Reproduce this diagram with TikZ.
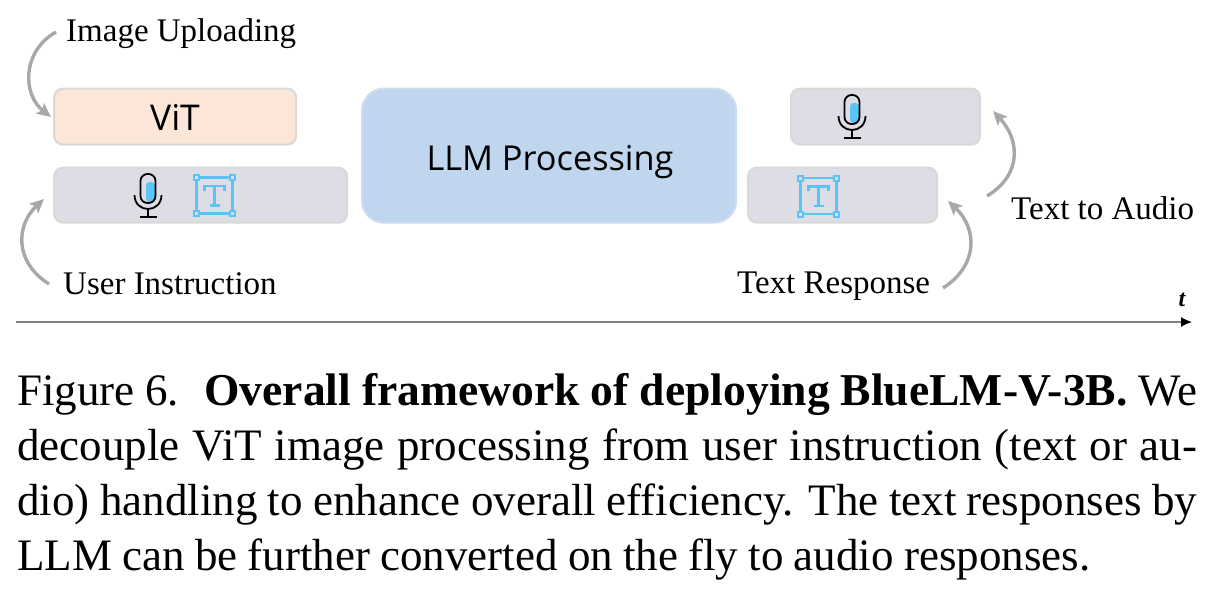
\documentclass[tikz,border=0pt]{standalone}
\usepackage{fontspec}
\setmainfont{Liberation Serif}
\newfontfamily\boxfont{Open Sans}
\usetikzlibrary{arrows.meta}
\definecolor{arrowgray}{HTML}{A8A8A8}
\definecolor{iconblue}{HTML}{5BC4F7}
\definecolor{barfill}{HTML}{DDDDE6}
\definecolor{barline}{HTML}{D9D9D9}
\definecolor{vitfill}{HTML}{FBE6D8}
\definecolor{llmfill}{HTML}{BFD6EE}
\definecolor{llmline}{HTML}{CBDDEF}
\definecolor{axisgray}{HTML}{7F7F7F}
\tikzset{
  x=1pt,y=-1pt,
  bar/.style={draw=barline,line width=2.2pt,fill=barfill,rounded corners=9pt,inner sep=0pt,anchor=north west},
  lbl/.style={font=\fontsize{33}{38}\selectfont,inner sep=0pt,anchor=base west},
  captext/.style={font=\fontsize{45}{50}\selectfont,inner sep=0pt,anchor=base west},
  flow/.style={draw=arrowgray,line width=3.4pt,-{Stealth[length=14pt,width=13pt,inset=3pt]}},
  mic/.pic={
    \fill[iconblue,rounded corners=3.5pt] (-2,-13) -- (7,-13) -- (7,7) -- (-2,7) -- cycle;
    \draw[black,line width=1.8pt,rounded corners=7pt] (-7.5,-21) rectangle (7.5,8);
    \draw[black,line width=1.8pt] (-13.5,0) .. controls (-13.5,9) and (-7,14) .. (0,14) .. controls (7,14) and (13.5,9) .. (13.5,0);
    \draw[black,line width=1.8pt] (0,14) -- (0,22) (-8.5,22) -- (8.5,22);
  },
  texticon/.pic={
    \draw[iconblue,line width=2.8pt] (-18,-18) rectangle (18,18);
    \foreach \cx/\cy in {-18/-18,18/-18,-18/18,18/18}
      \draw[iconblue,line width=2pt,fill=barfill] (\cx-2.5,\cy-2.5) rectangle (\cx+2.5,\cy+2.5);
    \draw[iconblue,line width=2.2pt] (-10,-5) -- (-10,-9.5) -- (10,-9.5) -- (10,-5) (0,-9.5) -- (0,10) (-5,10) -- (5,10);
  }
}
\begin{document}
\begin{tikzpicture}
\useasboundingbox (0,0) rectangle (1210,595);
% boxes
\node[bar,fill=vitfill,minimum width=242pt,minimum height=56pt] (vit) at (53,87.5) {};
\node[font=\boxfont\fontsize{35.5}{40}\selectfont,inner sep=0pt] (vittext) at (175,117) {ViT};
\node[bar,minimum width=293pt,minimum height=55pt] (input) at (53,166.5) {};
\node[bar,draw=llmline,fill=llmfill,rounded corners=22pt,minimum width=374pt,minimum height=134pt] (llm) at (361,87.5) {};
\node[font=\boxfont\fontsize{34.3}{40}\selectfont,inner sep=0pt] (llmtext) at (550,162) {LLM Processing};
\node[bar,minimum width=189pt,minimum height=56pt] (audio) at (790,87.5) {};
\node[bar,minimum width=189pt,minimum height=55pt] (textout) at (747,166.5) {};
% icons
\pic at (148,195) {mic};
\pic at (214.5,195.5) {texticon};
\pic at (852,116) {mic};
\pic at (818.5,196) {texticon};
% labels
\node[lbl] (upload) at (66,41) {Image Uploading};
\node[lbl] (instr) at (63,294) {User Instruction};
\node[lbl] (resp) at (737,293) {Text Response};
\node[lbl] (toaudio) at (1011,219) {Text to Audio};
% connectors
\coordinate (a1) at (56,32);
\coordinate (a2) at (51,117);
\coordinate (b1) at (49,284);
\coordinate (b2) at (44,199);
\coordinate (c1) at (943,288);
\coordinate (c2) at (948,201);
\coordinate (d1) at (987,196);
\coordinate (d2) at (993,111);
\draw[flow] (a1) .. controls (21,52) and (23,95) .. (a2);
\draw[flow] (b1) .. controls (14,262) and (16,225) .. (b2);
\draw[flow] (c1) .. controls (979,265) and (977,228) .. (c2);
\draw[flow] (d1) .. controls (1022,175) and (1020,140) .. (d2);
% time axis
\coordinate (t0) at (16,322);
\coordinate (t1) at (1192,322);
\draw[axisgray,line width=1.4pt,-{Latex[black,length=11pt,width=10pt]}] (t0) -- (t1);
\node[font=\bfseries\itshape\fontsize{24}{26}\selectfont,inner sep=0pt] (tlabel) at (1182,300) {t};
% caption
\node[captext] (l1) at (17,405.5) {\hbox to 1180pt{Figure 6.\hskip 25pt{\fontsize{45.6}{50}\selectfont\bfseries Overall framework of deploying BlueLM-V-3B.} We}};
\node[captext] (l2) at (17,460.5) {\hbox to 1180pt{decouple ViT image processing from user instruction (text or au-}};
\node[captext] (l3) at (17,515.5) {\hbox to 1180pt{dio) handling to enhance overall efficiency. The text responses by}};
\node[captext] (l4) at (17,570.5) {\hbox to 1073pt{LLM can be further converted on the fly to audio responses.}};
\end{tikzpicture}
\end{document}
